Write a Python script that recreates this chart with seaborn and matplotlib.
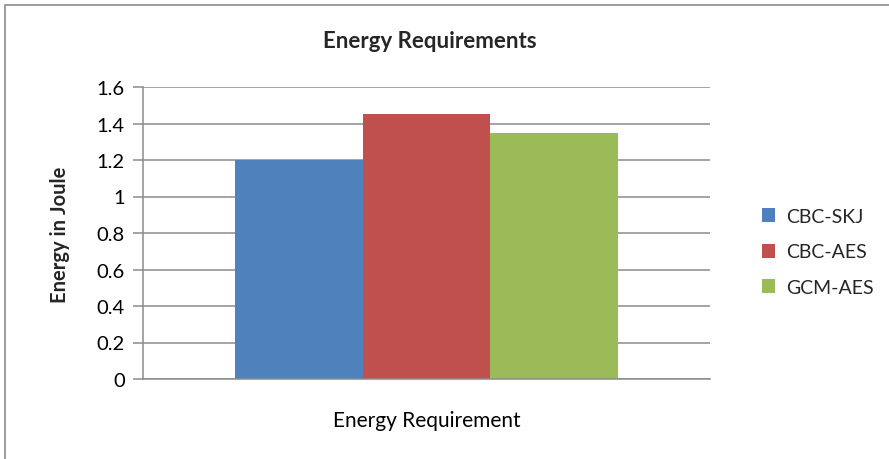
import matplotlib
matplotlib.use("Agg")
import matplotlib.pyplot as plt
from matplotlib.patches import Rectangle, Patch
import seaborn as sns
import pandas as pd

categories = ["Energy Requirement"]
series = ["CBC-SKJ", "CBC-AES", "GCM-AES"]
values = [1.2, 1.45, 1.35]
colors = ["#4F81BD", "#C0504D", "#9BBB59"]
yticks = [0, 0.2, 0.4, 0.6, 0.8, 1.0, 1.2, 1.4, 1.6]
ytick_labels = ["0", "0.2", "0.4", "0.6", "0.8", "1", "1.2", "1.4", "1.6"]

sns.set_theme(style="white")
plt.rcParams["font.family"] = ["Lato", "DejaVu Sans"]

df = pd.DataFrame({
    "category": categories * len(series),
    "series": series,
    "value": values,
})

W, H = 889, 460
fig = plt.figure(figsize=(W / 100, H / 100), dpi=100)
fig.patch.set_facecolor("white")
# chart frame (runs off the right and bottom edges)
fig.add_artist(Rectangle((5 / W, -0.1), 1.2, 1.1 - 6 / H,
                         transform=fig.transFigure, fill=False,
                         edgecolor="#8c8c8c", linewidth=1.2))

ax = fig.add_axes([143 / W, 1 - 380 / H, (710 - 143) / W, (380 - 88) / H])
sns.barplot(data=df, x="category", y="value", hue="series",
            palette=colors, width=0.677, saturation=1, ax=ax,
            legend=False, edgecolor="none")

ax.set_ylim(0, 1.6)
ax.set_xlim(-0.5, 0.5)
ax.set_yticks(yticks)
ax.set_yticklabels(ytick_labels, fontsize=14.5)
ax.yaxis.grid(True, color="#8c8c8c", linewidth=1.1)
ax.set_axisbelow(True)
for side in ["top", "right"]:
    ax.spines[side].set_visible(False)
for side in ["left", "bottom"]:
    ax.spines[side].set_color("#8c8c8c")
    ax.spines[side].set_linewidth(1.1)
ax.tick_params(axis="y", which="both", left=True, length=7, width=1.1,
               color="#8c8c8c", pad=6, labelcolor="black")
ax.tick_params(axis="x", bottom=False, pad=16, labelsize=15, labelcolor="black")
ax.set_xlabel("")
ax.set_ylabel("")

fig.text(430 / W, 1 - 42 / H, "Energy Requirements", fontsize=16, fontweight="bold",
         ha="center", va="center")
fig.text(60 / W, 1 - 235 / H, "Energy in Joule", fontsize=14.5, fontweight="bold",
         rotation=90, ha="center", va="center")

handles = [Patch(facecolor=c, edgecolor="none") for c in colors]
fig.legend(handles, series, loc="center left", bbox_to_anchor=(752 / W, 1 - 253 / H),
           frameon=False, fontsize=14, handlelength=0.7, handleheight=0.7,
           handletextpad=0.55, labelspacing=0.95, borderpad=0)

fig.savefig("out.png", dpi=100, facecolor="white")
